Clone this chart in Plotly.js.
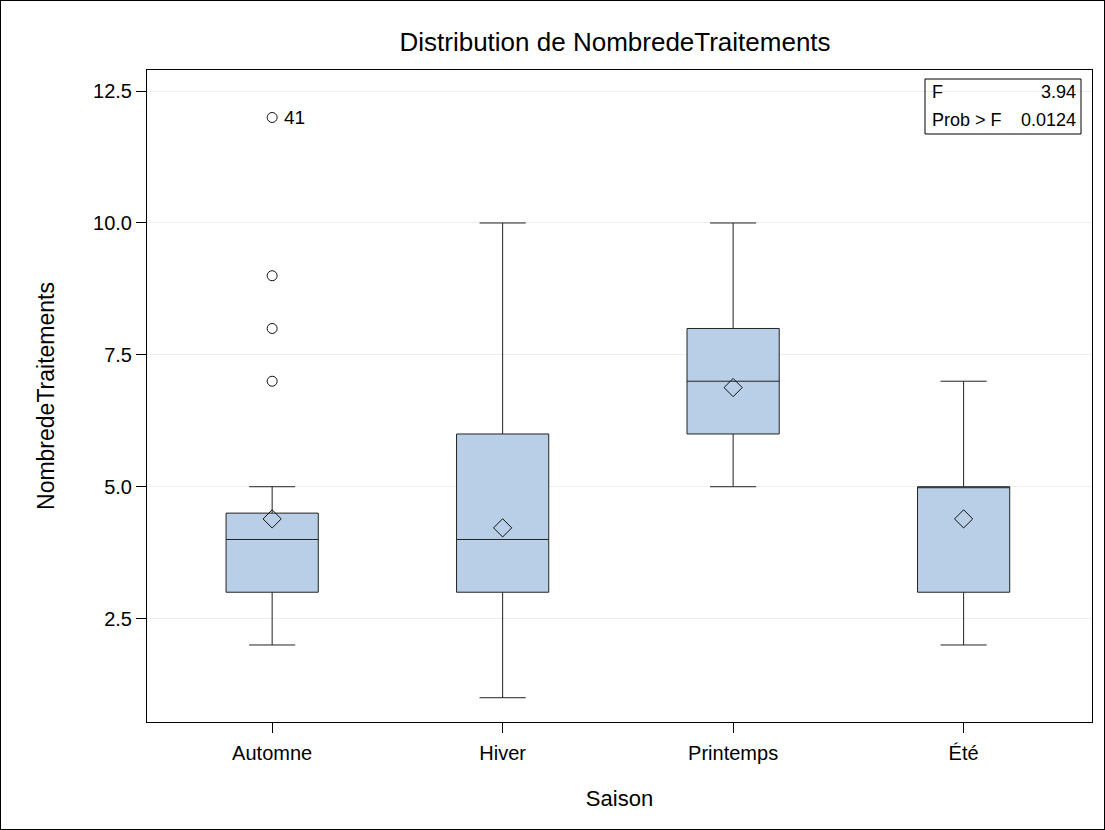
<!DOCTYPE html>
<html>
<head>
<meta charset="utf-8">
<script src="https://cdn.plot.ly/plotly-3.0.1.min.js"></script>
<style>
html,body{margin:0;padding:0;background:#fff;}
#frame{position:absolute;left:0;top:0;width:1103px;height:828px;border:1px solid #000;}
#chart{position:absolute;left:0;top:0;width:1105px;height:830px;}
</style>
</head>
<body>
<div id="chart"></div>
<div id="frame"></div>
<script>
const categories = ["Automne", "Hiver", "Printemps", "Été"];
const lowerWhisker = [2, 1, 5, 2];
const q1 = [3, 3, 6, 3];
const median = [4, 4, 7, 5];
const q3 = [4.5, 6, 8, 5];
const upperWhisker = [5, 10, 10, 7];
const means = [4.39, 4.22, 6.88, 4.39];
const outlierCat = ["Automne", "Automne", "Automne", "Automne"];
const outlierVal = [7, 8, 9, 12];
const labelledOutlier = {cat: "Automne", val: 12, label: "41"};
const statLabels = ["F", "Prob > F"];
const statValues = ["3.94", "0.0124"];

const FONT = "Liberation Sans, Arial, sans-serif";

const traces = [
  {
    type: "box",
    x: categories,
    q1: q1, median: median, q3: q3,
    lowerfence: lowerWhisker, upperfence: upperWhisker,
    boxpoints: false,
    fillcolor: "#b9cfe8",
    line: {color: "#222", width: 1},
    width: 0.4,
    whiskerwidth: 0.5,
    hoverinfo: "skip",
    showlegend: false
  },
  {
    type: "scatter", mode: "markers",
    x: categories, y: means,
    marker: {symbol: "diamond-open", size: 14, color: "#111", line: {width: 1, color: "#111"}},
    showlegend: false
  },
  {
    type: "scatter", mode: "markers",
    x: outlierCat, y: outlierVal,
    marker: {symbol: "circle-open", size: 10, color: "#111", line: {width: 1, color: "#111"}},
    showlegend: false
  }
];

const bx0 = (925-147)/945, bx1 = (1081-147)/945;
const by0 = (722-134)/652, by1 = (722-79)/652;
const lx = (930-147)/945, rx = (1078-147)/945;
const ry1 = (722-92)/652, ry2 = (722-120)/652;

const layout = {
  width: 1105, height: 830,
  margin: {l: 147, r: 13, t: 70, b: 108},
  paper_bgcolor: "#fff", plot_bgcolor: "#fff",
  font: {family: FONT, size: 20, color: "#000"},
  title: {text: "Distribution de NombredeTraitements", x: 0.5566, xanchor: "center", y: 0.949, yanchor: "middle",
          font: {family: FONT, size: 26, color: "#000"}},
  xaxis: {
    type: "category", categoryorder: "array", categoryarray: categories,
    range: [-0.543, 3.557],
    showline: true, linecolor: "#000", linewidth: 1, mirror: true,
    ticks: "outside", ticklen: 10, tickcolor: "#000",
    ticklabelstandoff: 3,
    showgrid: false, zeroline: false,
    tickfont: {family: FONT, size: 20},
    title: {text: "Saison", font: {family: FONT, size: 22}, standoff: 27}
  },
  yaxis: {
    range: [0.54, 12.9],
    tickvals: [2.5, 5, 7.5, 10, 12.5], ticktext: ["2.5", "5.0", "7.5", "10.0", "12.5"],
    showline: true, linecolor: "#000", linewidth: 1, mirror: true,
    ticks: "outside", ticklen: 10, tickcolor: "#000",
    showgrid: true, gridcolor: "#efefef", gridwidth: 1, zeroline: false,
    tickfont: {family: FONT, size: 20},
    title: {text: "NombredeTraitements", font: {family: FONT, size: 23}, standoff: 32}
  },
  shapes: [
    {type: "rect", xref: "paper", yref: "paper", x0: bx0, x1: bx1, y0: by0, y1: by1,
     line: {color: "#000", width: 1}, fillcolor: "rgba(0,0,0,0)"}
  ],
  annotations: [
    {x: labelledOutlier.cat, y: labelledOutlier.val, text: labelledOutlier.label, showarrow: false,
     xanchor: "left", yanchor: "middle", xshift: 10, font: {family: FONT, size: 19}},
    {xref: "paper", yref: "paper", x: lx, y: ry1, text: statLabels[0], showarrow: false, xanchor: "left", yanchor: "middle", font: {family: FONT, size: 18}},
    {xref: "paper", yref: "paper", x: rx, y: ry1, text: statValues[0], showarrow: false, xanchor: "right", yanchor: "middle", font: {family: FONT, size: 18}},
    {xref: "paper", yref: "paper", x: lx, y: ry2, text: statLabels[1], showarrow: false, xanchor: "left", yanchor: "middle", font: {family: FONT, size: 18}},
    {xref: "paper", yref: "paper", x: rx, y: ry2, text: statValues[1], showarrow: false, xanchor: "right", yanchor: "middle", font: {family: FONT, size: 18}}
  ]
};

Plotly.newPlot("chart", traces, layout, {displayModeBar: false, staticPlot: true});
</script>
</body>
</html>
